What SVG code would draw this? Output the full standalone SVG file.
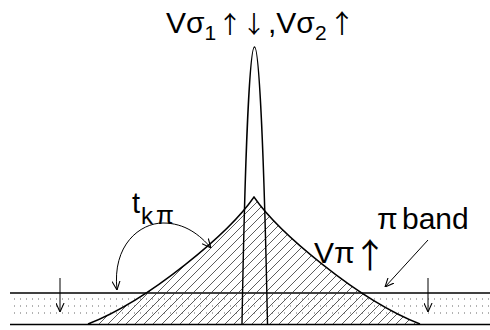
<svg xmlns="http://www.w3.org/2000/svg" width="490" height="330" viewBox="0 0 490 330">
<style>
.t{font-family:"Liberation Sans",Arial,sans-serif;fill:#000}
.ar{font-family:"Noto Sans CJK SC","Liberation Sans",sans-serif}
.ln{fill:none;stroke:#000;stroke-width:1.4}
.thin{fill:none;stroke:#000;stroke-width:1}
</style>
<defs>
<pattern id="hatch" patternUnits="userSpaceOnUse" width="9" height="9">
<path d="M-1,10 L10,-1" stroke="#333" stroke-width="0.8"/>
</pattern>
<pattern id="dots" patternUnits="userSpaceOnUse" x="0" y="297" width="6" height="7">
<rect x="2" y="1.5" width="1" height="1" fill="#666"/>
</pattern>
<clipPath id="tri"><path d="M88,324 C150,300 230,232 254,197 C278,232 358,300 420,324 Z"/></clipPath>
<marker id="ah" viewBox="0 0 10 10" refX="10" refY="5" markerWidth="9" markerHeight="9" markerUnits="userSpaceOnUse" orient="auto-start-reverse">
<path d="M0,0.5 L10,5 L0,9.5" fill="none" stroke="#000" stroke-width="1.2"/>
</marker>
</defs>
<g id="band">
<rect x="10" y="296" width="480" height="21" fill="url(#dots)"/>
<line class="ln" x1="10" y1="293" x2="490" y2="293"/>
<line class="ln" x1="10" y1="324.5" x2="490" y2="324.5"/>
</g>
<g id="pi-peak">
<rect x="80" y="190" width="350" height="140" fill="url(#hatch)" clip-path="url(#tri)"/>
<path class="ln" d="M88,324 C150,300 230,232 254,197 C278,232 358,300 420,324"/>
</g>
<g id="sigma-peak">
<path class="ln" d="M242,324 C245,150 250,47 254.5,47 C259,47 264,150 267.5,324"/>
</g>
<g id="connectors">
<path class="thin" d="M117,290 C112,245 140,223 163,223 C185,223 200,235 211,248" marker-start="url(#ah)" marker-end="url(#ah)"/>
<line class="thin" x1="428" y1="240" x2="385" y2="287" marker-end="url(#ah)"/>
<line class="thin" x1="60" y1="278" x2="60" y2="312" marker-end="url(#ah)"/>
<line class="thin" x1="428" y1="278" x2="428" y2="312" marker-end="url(#ah)"/>
</g>
<g id="labels">
<text class="t" x="166" y="33" font-size="30">Vσ<tspan font-size="21" dy="7">1</tspan><tspan class="ar" x="218" dy="-7" font-size="24">↑↓</tspan><tspan x="268">,Vσ</tspan><tspan font-size="21" dy="7">2</tspan><tspan class="ar" x="329" dy="-7" font-size="26">↑</tspan></text>
<text class="t" x="132" y="213" font-size="29">t<tspan font-size="24" x="141" y="224">k</tspan><tspan font-size="26" x="156">π</tspan></text>
<text class="t" x="314" y="263" font-size="30">Vπ<tspan class="ar" x="353" font-size="34" dy="5">↑</tspan></text>
<text class="t" x="377" y="229" font-size="30">π<tspan x="402">band</tspan></text>
</g>
</svg>
